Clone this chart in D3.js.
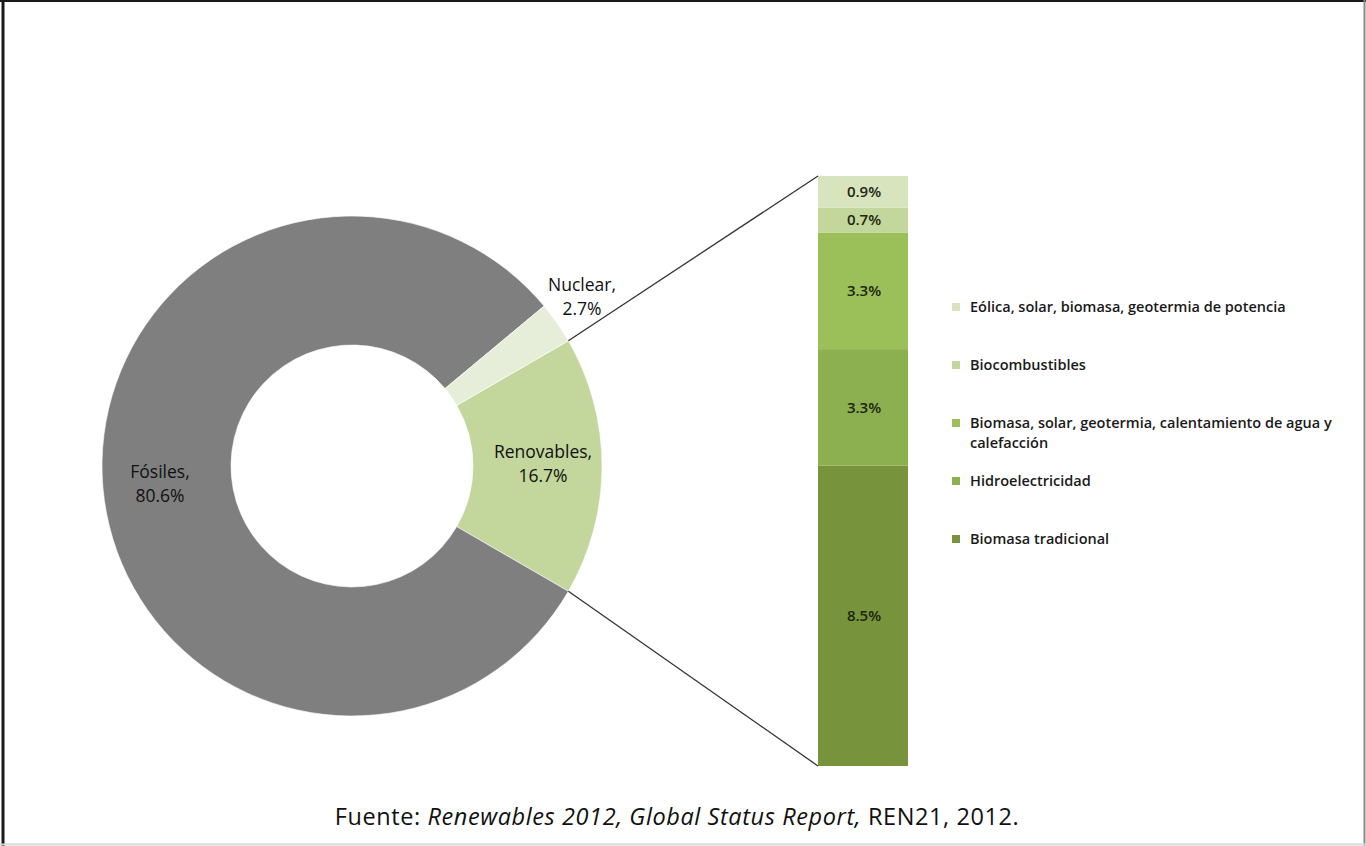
<!DOCTYPE html>
<html>
<head>
<meta charset="utf-8">
<script src="https://cdn.jsdelivr.net/npm/d3@7/dist/d3.min.js"></script>
<style>
  html, body { margin: 0; padding: 0; background: #fff; }
  svg { display: block; }
  text { font-family: "Open Sans", "DejaVu Sans", sans-serif; }
</style>
</head>
<body>
<svg id="chart" width="1366" height="846"></svg>
<script>
// Primary energy split (percent)
const mainCategories = ["Renovables", "Fósiles", "Nuclear"];
const mainValues = [16.7, 80.6, 2.7];
const mainLabels = [["Renovables,", "16.7%"], ["Fósiles,", "80.6%"], ["Nuclear,", "2.7%"]];
const mainColors = ["#c3d69b", "#7f7f7f", "#e6eed9"];

// Breakdown of renewables, stacked bottom to top
const subCategories = ["Biomasa tradicional", "Hidroelectricidad",
  "Biomasa, solar, geotermia, calentamiento de agua y calefacción",
  "Biocombustibles", "Eólica, solar, biomasa, geotermia de potencia"];
const subValues = [8.5, 3.3, 3.3, 0.7, 0.9];
const subLabels = ["8.5%", "3.3%", "3.3%", "0.7%", "0.9%"];
const subColors = ["#77933c", "#8caf4f", "#9bbf59", "#c3d69b", "#d7e4bd"];

// Legend lines, top to bottom
const legendLines = [
  ["Eólica, solar, biomasa, geotermia de potencia"],
  ["Biocombustibles"],
  ["Biomasa, solar, geotermia, calentamiento de agua y", "calefacción"],
  ["Hidroelectricidad"],
  ["Biomasa tradicional"]
];
const legendColors = ["#d7e4bd", "#c3d69b", "#9bbf59", "#8caf4f", "#77933c"];

const sourceNote = { pre: "Fuente: ", ital: "Renewables 2012, Global Status Report,", post: " REN21, 2012." };

const svg = d3.select("#chart");

// frame
svg.append("line").attr("x1", 3).attr("y1", 0).attr("x2", 3).attr("y2", 846).attr("stroke", "#1a1a1a").attr("stroke-width", 3);
svg.append("line").attr("x1", 0).attr("y1", 1).attr("x2", 1366).attr("y2", 1).attr("stroke", "#1a1a1a").attr("stroke-width", 2);
svg.append("line").attr("x1", 1364.5).attr("y1", 0).attr("x2", 1364.5).attr("y2", 846).attr("stroke", "#8a8a8a").attr("stroke-width", 2);
svg.append("line").attr("x1", 0).attr("y1", 844.5).attr("x2", 1366).attr("y2", 844.5).attr("stroke", "#d8d8d8").attr("stroke-width", 2);

// ---- donut ----
const cx = 352, cy = 466, rOuter = 250, rInner = 121;
const total = d3.sum(mainValues);
const renovAngle = mainValues[0] / total * 2 * Math.PI;
const start = Math.PI / 2 - renovAngle / 2;

const pie = d3.pie().sort(null).value(d => d).startAngle(start).endAngle(start + 2 * Math.PI);
const arcs = pie(mainValues);
const arc = d3.arc().innerRadius(rInner).outerRadius(rOuter);

const g = svg.append("g").attr("transform", `translate(${cx},${cy})`);
g.selectAll("path").data(arcs).join("path")
  .attr("d", arc)
  .attr("fill", (d, i) => mainColors[i])
  .attr("stroke", "#ffffff").attr("stroke-width", 0.6);

// ---- stacked bar ----
const barX = 818, barW = 90;
const y = d3.scaleLinear().domain([0, d3.sum(subValues)]).range([766, 176]);
const stackData = [];
let acc = 0;
subValues.forEach((v, i) => { stackData.push({ y0: acc, y1: acc + v, i }); acc += v; });

svg.append("g").selectAll("rect").data(stackData).join("rect")
  .attr("x", barX).attr("width", barW)
  .attr("y", d => y(d.y1)).attr("height", d => y(d.y0) - y(d.y1))
  .attr("fill", d => subColors[d.i]);

svg.append("g").selectAll("text").data(stackData).join("text")
  .attr("x", barX + barW / 2 + 1)
  .attr("y", d => (y(d.y0) + y(d.y1)) / 2)
  .attr("dy", "0.35em")
  .attr("text-anchor", "middle")
  .attr("font-size", 15).attr("font-weight", 600).attr("fill", "#1c2610")
  .text(d => subLabels[d.i]);

// connector lines from the renewables slice edges to the bar
const a0 = arcs[0].startAngle, a1 = arcs[0].endAngle;
const pt = a => [cx + rOuter * Math.sin(a), cy - rOuter * Math.cos(a)];
const p0 = pt(a0), p1 = pt(a1);
svg.append("line").attr("x1", p0[0]).attr("y1", p0[1]).attr("x2", barX).attr("y2", y(d3.sum(subValues)))
  .attr("stroke", "#333").attr("stroke-width", 1.3);
svg.append("line").attr("x1", p1[0]).attr("y1", p1[1]).attr("x2", barX).attr("y2", y(0))
  .attr("stroke", "#333").attr("stroke-width", 1.3);

// donut labels
const labelPos = [[543, 452], [160, 472], [582, 285]];
mainLabels.forEach((lines, i) => {
  const t = svg.append("text").attr("text-anchor", "middle")
    .attr("font-size", 17.5).attr("font-weight", 500).attr("fill", "#111");
  lines.forEach((ln, k) => {
    t.append("tspan").attr("x", labelPos[i][0]).attr("y", labelPos[i][1] + k * 24 + 6).text(ln);
  });
});

// legend
const legY = [307, 365, 423, 481, 539];
legendLines.forEach((lines, i) => {
  svg.append("rect").attr("x", 952).attr("y", legY[i] - 4).attr("width", 8).attr("height", 8)
    .attr("fill", legendColors[i]);
  const t = svg.append("text").attr("font-size", 14.5).attr("font-weight", 600).attr("fill", "#1a1a1a");
  lines.forEach((ln, k) => {
    t.append("tspan").attr("x", 970).attr("y", legY[i] + k * 20 + 5).text(ln);
  });
});

// source note
const note = svg.append("text").attr("x", 677).attr("y", 825).attr("text-anchor", "middle")
  .attr("font-size", 23.5).attr("letter-spacing", 0.6).attr("fill", "#111");
note.append("tspan").text(sourceNote.pre);
note.append("tspan").attr("font-style", "italic").text(sourceNote.ital);
note.append("tspan").text(sourceNote.post);
</script>
</body>
</html>
